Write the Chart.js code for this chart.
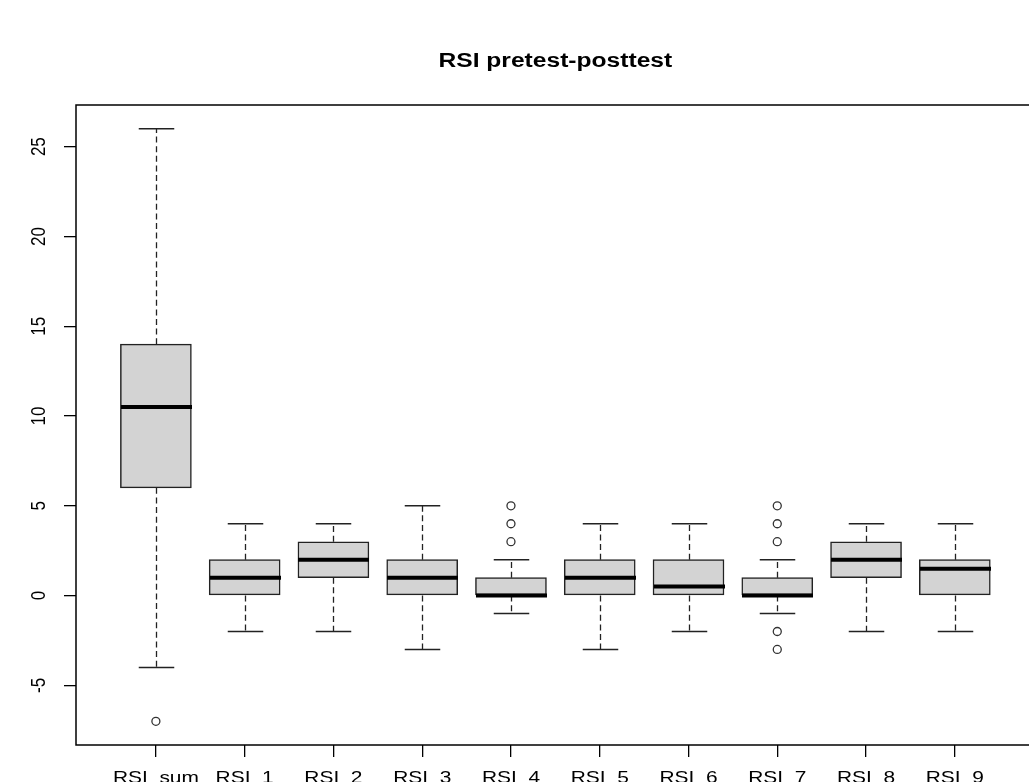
<!DOCTYPE html>
<html>
<head>
<meta charset="utf-8">
<script src="https://cdn.jsdelivr.net/npm/chart.js@4.4.1/dist/chart.umd.min.js"></script>
<style>
html, body { margin:0; padding:0; overflow:hidden; background:#fff; }
canvas { display:block; }
</style>
</head>
<body>
<canvas id="c" width="1040" height="782" style="width:1040px;height:782px"></canvas>
<script>
// ---- data ----
const categories = ["RSI_sum","RSI_1","RSI_2","RSI_3","RSI_4","RSI_5","RSI_6","RSI_7","RSI_8","RSI_9"];
const whiskerLow  = [-4, -2, -2, -3, -1, -3, -2, -1, -2, -2];
const q1          = [ 6,  0,  1,  0,  0,  0,  0,  0,  1,  0];
const median      = [10.5, 1, 2,  1,  0,  1, 0.5, 0,  2, 1.5];
const q3          = [14,  2,  3,  2,  1,  2,  2,  1,  3,  2];
const whiskerHigh = [26,  4,  4,  5,  2,  4,  4,  2,  4,  4];
const outliers    = [[-7], [], [], [], [3,4,5], [], [], [3,4,5,-2,-3], [], []];
const yTicks = [-5, 0, 5, 10, 15, 20, 25];
const titleText = "RSI pretest-posttest";

// ---- derived tables ----
const boxData = categories.map((c,i)=>({x:i+1, y:[q1[i], q3[i]]}));
const outlierData = [];
outliers.forEach((arr,i)=>arr.forEach(v=>outlierData.push({x:i+1, y:v})));

const SX = 1.23; // horizontal stretch of the reference text
const ink = '#222';

function stretchedText(ctx, text, x, y, font, align, baseline, rotate) {
  ctx.save();
  ctx.font = font;
  ctx.fillStyle = '#000';
  ctx.textAlign = align;
  ctx.textBaseline = baseline;
  ctx.translate(x, y);
  ctx.scale(SX, 1);
  if (rotate) ctx.rotate(rotate);
  ctx.fillText(text, 0, 0);
  ctx.restore();
}

const boxPlugin = {
  id: 'boxParts',
  afterDatasetsDraw(chart) {
    const ctx = chart.ctx, xs = chart.scales.x, ys = chart.scales.y;
    const unit = xs.getPixelForValue(2) - xs.getPixelForValue(1);
    const halfStaple = unit * 0.2;
    const halfBox = unit * 0.4;
    ctx.save();
    categories.forEach((c,i)=>{
      const px = Math.round(xs.getPixelForValue(i+1)) + 0.5;
      // whiskers (dashed)
      ctx.strokeStyle = ink;
      ctx.lineWidth = 1.3;
      ctx.setLineDash([6, 3.6]);
      ctx.beginPath();
      ctx.moveTo(px, ys.getPixelForValue(q3[i]));
      ctx.lineTo(px, ys.getPixelForValue(whiskerHigh[i]));
      ctx.moveTo(px, ys.getPixelForValue(q1[i]));
      ctx.lineTo(px, ys.getPixelForValue(whiskerLow[i]));
      ctx.stroke();
      // staples
      ctx.setLineDash([]);
      ctx.lineWidth = 1.5;
      ctx.beginPath();
      const yh = ys.getPixelForValue(whiskerHigh[i]);
      const yl = ys.getPixelForValue(whiskerLow[i]);
      ctx.moveTo(px - halfStaple, yh); ctx.lineTo(px + halfStaple, yh);
      ctx.moveTo(px - halfStaple, yl); ctx.lineTo(px + halfStaple, yl);
      ctx.stroke();
      // median
      ctx.strokeStyle = '#000';
      ctx.lineWidth = 4;
      ctx.lineCap = 'butt';
      const ym = ys.getPixelForValue(median[i]);
      ctx.beginPath();
      ctx.moveTo(px - halfBox, ym); ctx.lineTo(px + halfBox, ym);
      ctx.stroke();
    });
    ctx.restore();
  },
  afterDraw(chart) {
    const ctx = chart.ctx, a = chart.chartArea, xs = chart.scales.x, ys = chart.scales.y;
    // frame
    ctx.save();
    ctx.strokeStyle = '#000';
    ctx.lineWidth = 1.5;
    ctx.strokeRect(a.left, a.top, a.right - a.left, a.bottom - a.top);
    ctx.restore();
    // title
    stretchedText(ctx, titleText, (a.left + a.right) / 2, 67, 'bold 20px "Liberation Sans", Arial, sans-serif', 'center', 'alphabetic', 0);
    // x labels
    categories.forEach((c,i)=>{
      stretchedText(ctx, c, xs.getPixelForValue(i+1), 782.5, '17px "Liberation Sans", Arial, sans-serif', 'center', 'alphabetic', 0);
    });
    // y labels (rotated)
    yTicks.forEach(v=>{
      stretchedText(ctx, String(v), 45, ys.getPixelForValue(v), '17px "Liberation Sans", Arial, sans-serif', 'center', 'alphabetic', -Math.PI/2);
    });
  }
};

new Chart(document.getElementById('c'), {
  type: 'bar',
  data: {
    datasets: [
      {
        type: 'bar',
        data: boxData,
        backgroundColor: '#d3d3d3',
        borderColor: ink,
        borderWidth: 1.5,
        borderSkipped: false,
        barThickness: 71,
        order: 2
      },
      {
        type: 'scatter',
        data: outlierData,
        pointStyle: 'circle',
        pointRadius: 4,
        pointBackgroundColor: 'rgba(0,0,0,0)',
        pointBorderColor: '#333',
        pointBorderWidth: 1.3,
        order: 1
      }
    ]
  },
  options: {
    responsive: false,
    animation: false,
    devicePixelRatio: 1,
    layout: { padding: { top: 105, left: 0, right: 3, bottom: 0 } },
    plugins: { legend: { display: false }, tooltip: { enabled: false }, title: { display: false } },
    scales: {
      x: {
        type: 'linear',
        min: 0.1, max: 10.9,
        offset: false,
        afterBuildTicks: s => { s.ticks = categories.map((c,i)=>({value:i+1})); },
        afterFit: s => { s.height = 37; },
        ticks: { display: false },
        grid: { display: true, offset: false, drawOnChartArea: false, drawTicks: true, tickLength: 12, color: '#000', lineWidth: 1.3 },
        border: { display: false }
      },
      y: {
        type: 'linear',
        min: -8.32, max: 27.32,
        afterBuildTicks: s => { s.ticks = yTicks.map(v=>({value:v})); },
        afterFit: s => { s.width = 76; },
        ticks: { display: false },
        grid: { display: true, offset: false, drawOnChartArea: false, drawTicks: true, tickLength: 12, color: '#000', lineWidth: 1.3 },
        border: { display: false }
      }
    }
  },
  plugins: [boxPlugin]
});
</script>
</body>
</html>
